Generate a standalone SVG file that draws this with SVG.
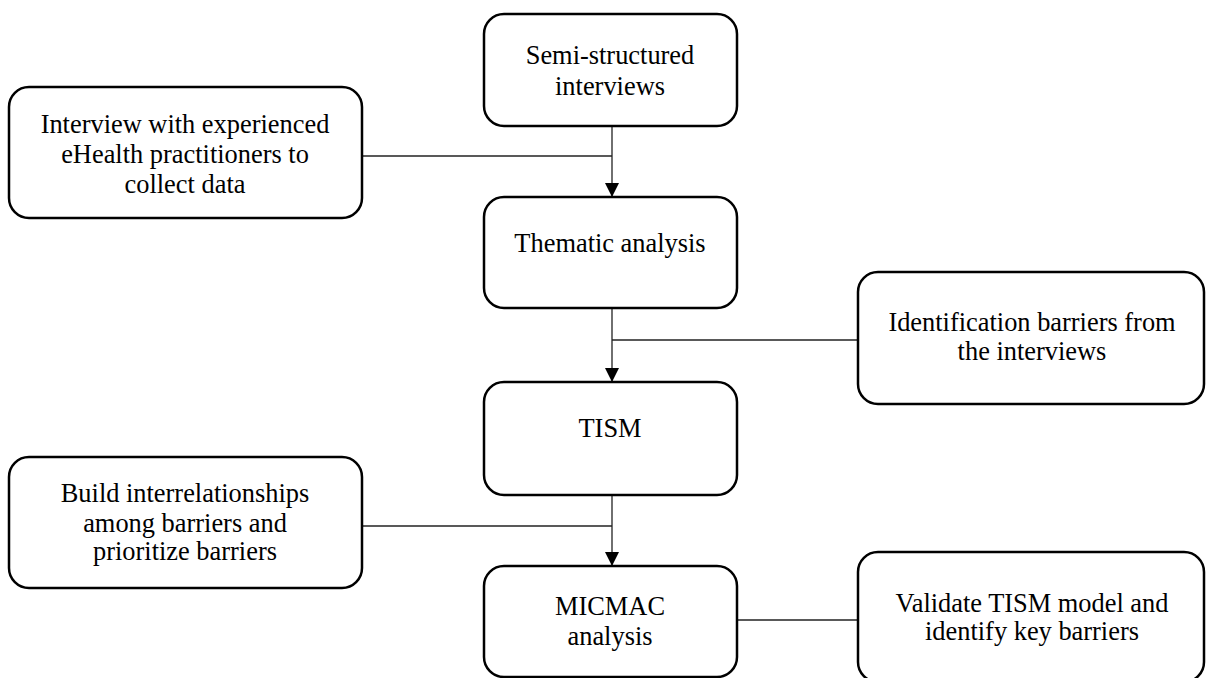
<svg xmlns="http://www.w3.org/2000/svg" width="1206" height="678" viewBox="0 0 1206 678">
<style>
.box{fill:#fff;stroke:#000;stroke-width:2.5}
.t{font-family:"Liberation Serif","Times New Roman",serif;font-size:26.4px;fill:#000;text-anchor:middle}
.c{stroke:#222;stroke-width:1.3;fill:none}
</style>
<defs>
<marker id="ah" markerWidth="14" markerHeight="15" refX="13" refY="7" orient="auto" markerUnits="userSpaceOnUse">
<path d="M0,0 L14,7 L0,14 Z" fill="#000"/>
</marker>
</defs>
<rect width="1206" height="678" fill="#fff"/>
<g id="connectors">
<path class="c" d="M612,126 V196" marker-end="url(#ah)"/>
<path class="c" d="M362,156 H612"/>
<path class="c" d="M612,308 V381" marker-end="url(#ah)"/>
<path class="c" d="M612,340 H858"/>
<path class="c" d="M612,495 V565" marker-end="url(#ah)"/>
<path class="c" d="M362,526 H612"/>
<path class="c" d="M737,620 H858"/>
</g>
<g id="n-semi">
<rect class="box" x="484" y="14" width="253" height="112" rx="20"/>
<text class="t" x="610" y="64">Semi-structured</text>
<text class="t" x="610" y="95">interviews</text>
</g>
<g id="n-interview">
<rect class="box" x="9" y="87" width="353" height="131" rx="20"/>
<text class="t" x="185" y="133">Interview with experienced</text>
<text class="t" x="185" y="163">eHealth practitioners to</text>
<text class="t" x="185" y="193">collect data</text>
</g>
<g id="n-thematic">
<rect class="box" x="484" y="197" width="253" height="111" rx="20"/>
<text class="t" x="610" y="252">Thematic analysis</text>
</g>
<g id="n-identification">
<rect class="box" x="858" y="272" width="346" height="132" rx="20"/>
<text class="t" x="1032" y="331">Identification barriers from</text>
<text class="t" x="1032" y="360">the interviews</text>
</g>
<g id="n-tism">
<rect class="box" x="484" y="382" width="253" height="113" rx="20"/>
<text class="t" x="610" y="437">TISM</text>
</g>
<g id="n-build">
<rect class="box" x="9" y="457" width="353" height="131" rx="20"/>
<text class="t" x="185" y="502">Build interrelationships</text>
<text class="t" x="185" y="532">among barriers and</text>
<text class="t" x="185" y="560">prioritize barriers</text>
</g>
<g id="n-micmac">
<rect class="box" x="484" y="566" width="253" height="111" rx="20"/>
<text class="t" x="610" y="615">MICMAC</text>
<text class="t" x="610" y="645">analysis</text>
</g>
<g id="n-validate">
<rect class="box" x="858" y="552" width="346" height="130" rx="20"/>
<text class="t" x="1032" y="612">Validate TISM model and</text>
<text class="t" x="1032" y="640">identify key barriers</text>
</g>
</svg>
